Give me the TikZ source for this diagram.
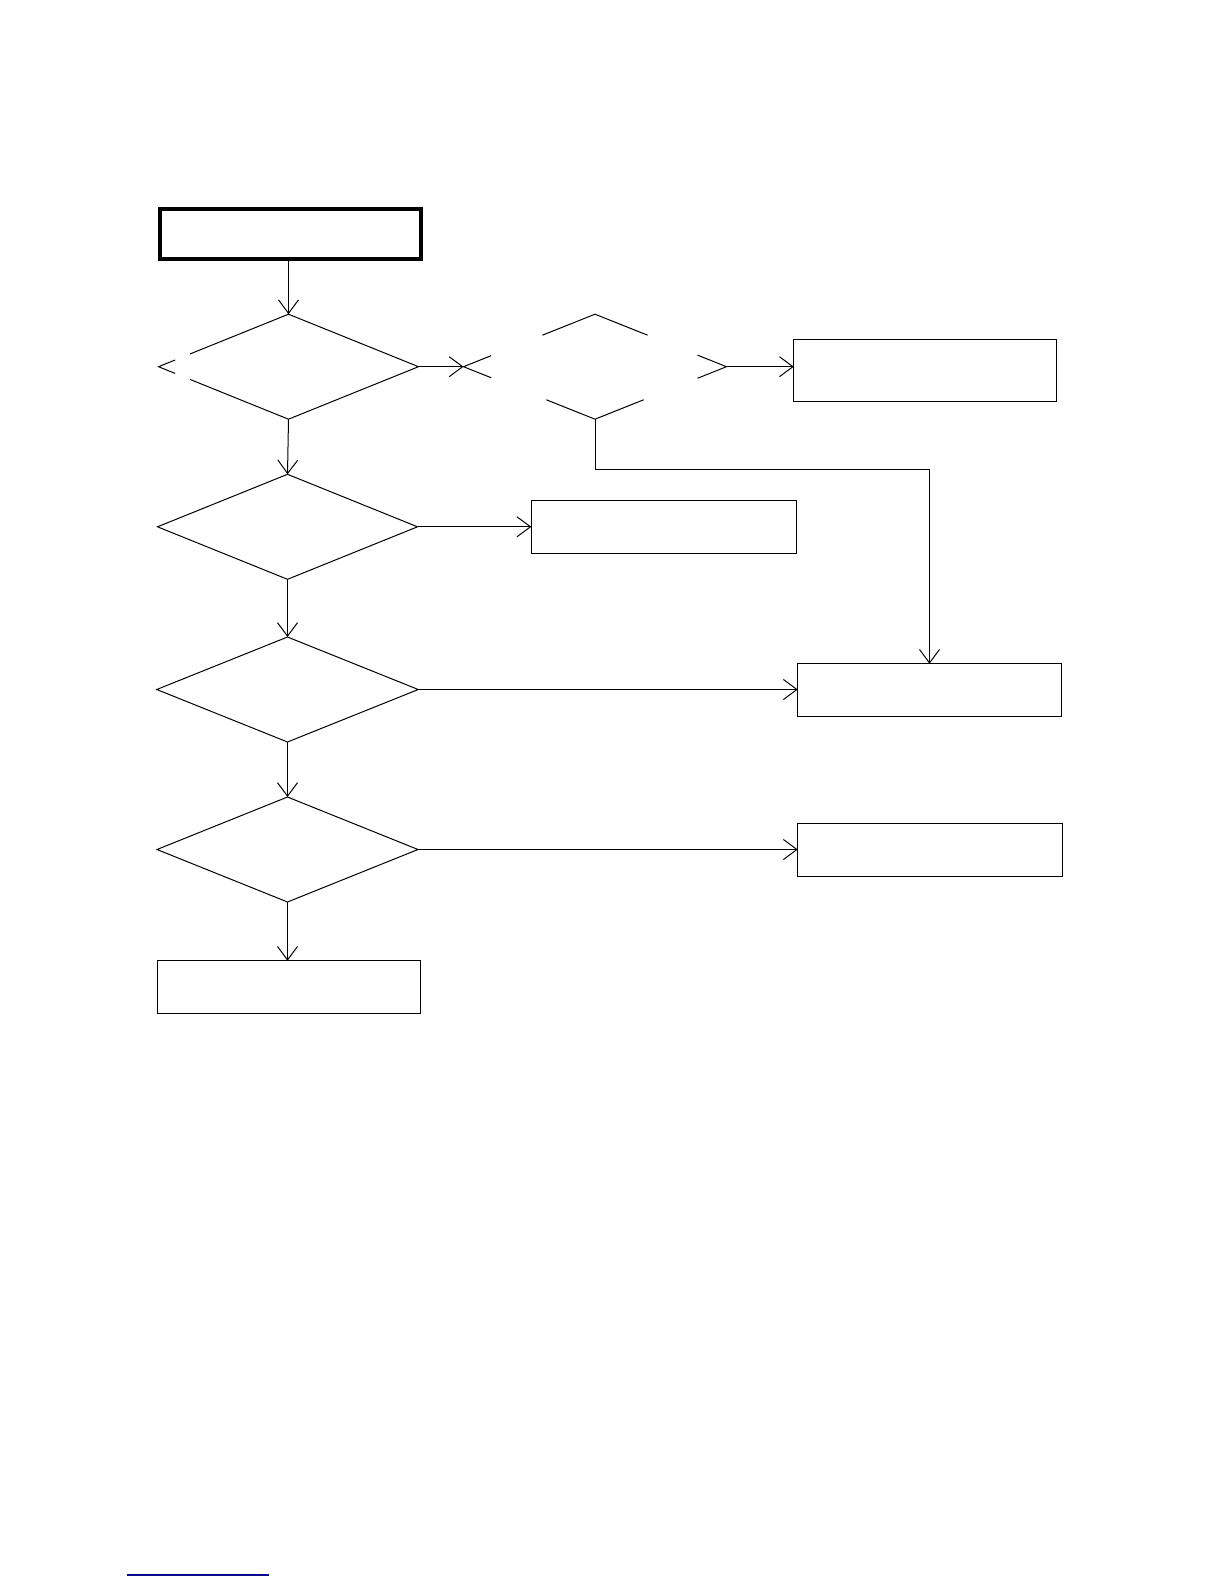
\documentclass[tikz,border=0pt]{standalone}
\usetikzlibrary{shapes.geometric,arrows.meta,calc}
\definecolor{linkblue}{RGB}{10,10,140}
\tikzset{
  dia/.style={diamond,draw,line width=1pt,inner sep=0pt,outer sep=0pt,minimum width=261pt,minimum height=105pt},
  hid/.style={dia,draw=none},
  box/.style={rectangle,draw,line width=1pt,inner sep=0pt,outer sep=0pt,minimum width=264pt,minimum height=53pt},
  arr/.style={line width=1pt,-{Straight Barb[length=13.5pt,width=20pt,line width=1pt]}},
  seg/.style={line width=1pt}
}
\begin{document}
\begin{tikzpicture}[x=1pt,y=-1pt]
\useasboundingbox (0,0) rectangle (1224,1584);
\fill[white] (0,0) rectangle (1224,1584);
% start box
\node[box,line width=3.3pt,minimum width=261pt,minimum height=50pt] (t0) at (290.5,234) {};
% diamonds
\node[hid,minimum width=260pt] (d1) at (288.5,366.7) {};
\node[hid,minimum width=263pt] (d2) at (595,366.7) {};
\node[dia,minimum width=260pt] (d3) at (287.5,526.8) {};
\node[dia,minimum width=261.5pt] (d4) at (287.5,689.5) {};
\node[dia,minimum width=261pt] (d5) at (287.5,849.5) {};
% boxes
\node[box,minimum width=263pt,minimum height=62pt] (A) at (925.3,370.7) {};
\node[box,minimum width=265pt] (B) at (663.8,527.2) {};
\node[box,minimum width=263.5pt] (C) at (929.5,690.3) {};
\node[box,minimum width=264.5pt] (D) at (930,850.3) {};
\node[box,minimum width=263pt] (E) at (288.7,987.3) {};
% partial outline of d1
\draw[seg] ($(d1.west)!0.128!(d1.north)$) -- (d1.west) -- ($(d1.west)!0.128!(d1.south)$);
\draw[seg] ($(d1.west)!0.243!(d1.north)$) -- (d1.north) -- (d1.east) -- (d1.south) -- ($(d1.west)!0.243!(d1.south)$);
% partial outline of d2
\draw[seg] ($(d2.north)!0.40!(d2.west)$) -- (d2.north) -- ($(d2.north)!0.40!(d2.east)$);
\draw[seg] ($(d2.south)!0.37!(d2.west)$) -- (d2.south) -- ($(d2.south)!0.37!(d2.east)$);
\draw[seg] ($(d2.west)!0.21!(d2.north)$) -- (d2.west) -- ($(d2.west)!0.21!(d2.south)$);
\draw[seg] ($(d2.east)!0.22!(d2.north)$) -- (d2.east) -- ($(d2.east)!0.22!(d2.south)$);
% connectors
\draw[arr] (d1.north |- t0.south) -- (d1.north);
\draw[arr] (d1.east) -- (d2.west);
\draw[arr] (d2.east) -- (d2.east -| A.west);
\draw[arr] (d2.south) |- (C.north |- 0,469.3) -- (C.north);
\draw[arr] (d1.south) -- (d3.north);
\draw[arr] (d3.east) -- (d3.east -| B.west);
\draw[arr] (d3.south) -- (d4.north);
\draw[arr] (d4.east) -- (d4.east -| C.west);
\draw[arr] (d4.south) -- (d5.north);
\draw[arr] (d5.east) -- (d5.east -| D.west);
\draw[arr] (d5.south) -- (d5.south |- E.north);
% link underline at the bottom
\draw[linkblue,line width=1.3pt] (126.7,1575) -- (269,1575);
\end{tikzpicture}
\end{document}
